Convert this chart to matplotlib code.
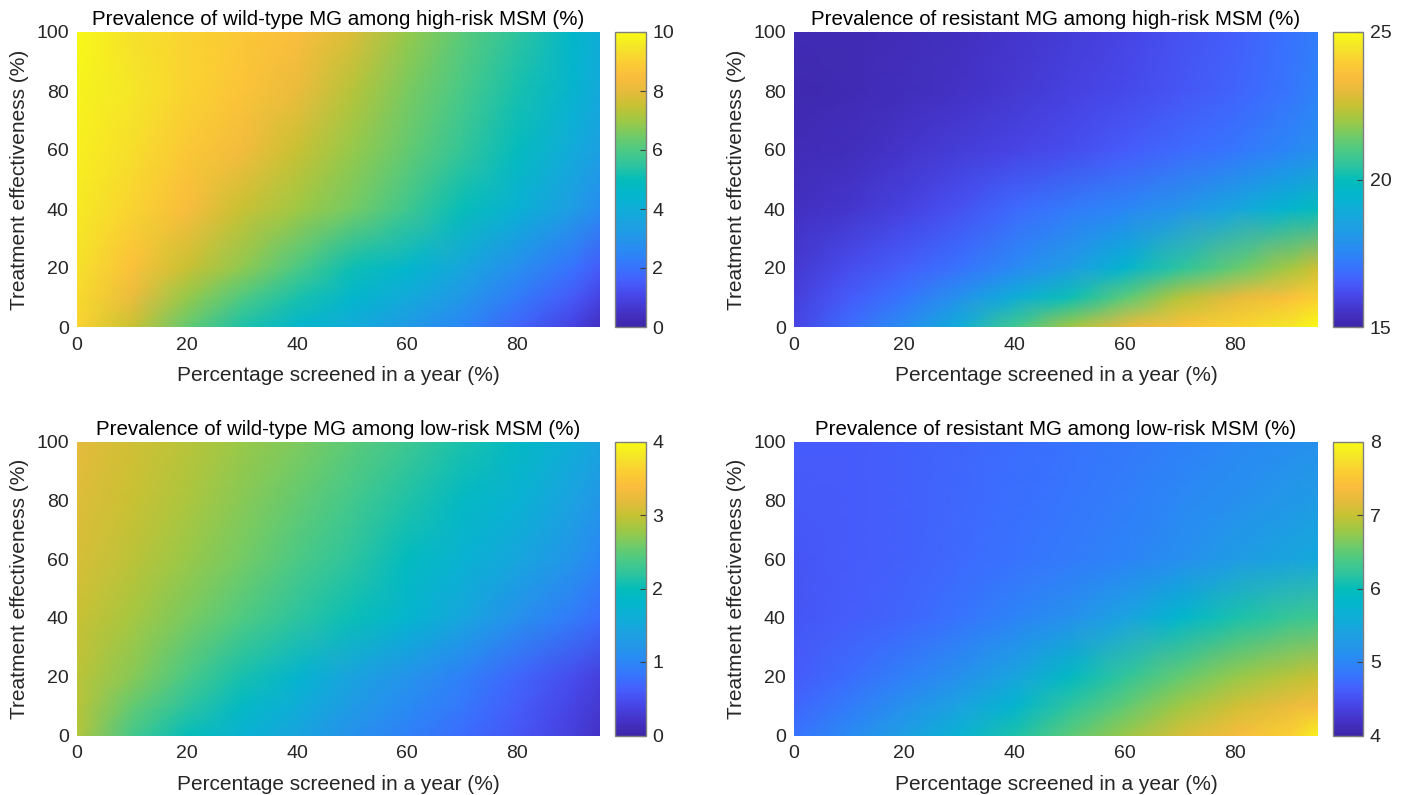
import numpy as np
import matplotlib
matplotlib.use("Agg")
import matplotlib.pyplot as plt
from matplotlib.colors import LinearSegmentedColormap

# grid the values were read on
screened = [0, 10, 20, 30, 40, 50, 60, 70, 80, 90, 95]   # x, percentage screened in a year
effect = [0, 10, 20, 40, 60, 80, 100]                      # y, treatment effectiveness

# wild-type MG, high-risk MSM (rows = effect, cols = screened)
wt_high = [
    [9.1, 7.5, 6.3, 5.3, 4.5, 3.9, 3.2, 2.5, 1.7, 0.9, 0.4],
    [9.25, 8.1, 6.9, 6.05, 5.25, 4.5, 3.85, 3.1, 2.25, 1.45, 0.95],
    [9.4, 8.6, 7.5, 6.8, 6.0, 5.1, 4.5, 3.7, 2.8, 2.0, 1.5],
    [9.6, 9.1, 8.4, 7.5, 7.0, 6.5, 5.8, 5.0, 4.2, 3.3, 2.7],
    [9.7, 9.3, 8.8, 8.3, 7.5, 6.9, 6.3, 5.6, 4.9, 3.9, 3.4],
    [9.8, 9.5, 9.1, 8.7, 8.1, 7.3, 6.6, 5.9, 5.2, 4.4, 3.8],
    [9.9, 9.4, 9.1, 8.8, 8.5, 7.8, 6.9, 6.2, 5.5, 4.6, 4.0],
]

# resistant MG, high-risk MSM
res_high = [
    [16.0, 16.9, 17.7, 19.0, 20.8, 22.0, 23.0, 23.6, 24.1, 24.5, 25.0],
    [15.85, 16.5, 17.1, 17.9, 19.0, 20.1, 21.2, 22.3, 23.0, 23.6, 24.0],
    [15.7, 16.2, 16.6, 17.0, 17.6, 18.3, 19.4, 20.5, 21.3, 22.1, 22.6],
    [15.4, 15.6, 15.9, 16.3, 16.8, 17.2, 17.5, 18.0, 18.7, 19.5, 19.9],
    [15.25, 15.35, 15.55, 15.8, 16.0, 16.2, 16.5, 16.8, 17.1, 17.5, 17.8],
    [15.15, 15.2, 15.35, 15.5, 15.7, 15.9, 16.1, 16.4, 16.7, 17.1, 17.4],
    [15.2, 15.2, 15.3, 15.4, 15.6, 15.8, 16.0, 16.3, 16.6, 17.0, 17.3],
]

# wild-type MG, low-risk MSM
wt_low = [
    [2.9, 2.35, 2.0, 1.7, 1.45, 1.15, 0.95, 0.75, 0.55, 0.33, 0.2],
    [2.93, 2.52, 2.19, 1.89, 1.6, 1.29, 1.06, 0.85, 0.62, 0.4, 0.27],
    [2.95, 2.7, 2.38, 2.08, 1.75, 1.43, 1.18, 0.95, 0.7, 0.48, 0.35],
    [3.0, 2.83, 2.63, 2.42, 2.2, 2.02, 1.78, 1.47, 1.15, 0.9, 0.75],
    [3.1, 2.95, 2.78, 2.6, 2.4, 2.2, 1.95, 1.7, 1.48, 1.2, 1.0],
    [3.15, 3.0, 2.86, 2.69, 2.53, 2.34, 2.13, 1.9, 1.69, 1.4, 1.22],
    [3.2, 3.05, 2.93, 2.78, 2.65, 2.47, 2.3, 2.1, 1.9, 1.6, 1.45],
]

# resistant MG, low-risk MSM
res_low = [
    [4.8, 5.05, 5.35, 5.7, 6.1, 6.48, 6.78, 7.08, 7.35, 7.6, 7.9],
    [4.7, 4.9, 5.15, 5.42, 5.78, 6.2, 6.5, 6.8, 7.05, 7.25, 7.35],
    [4.6, 4.75, 4.93, 5.15, 5.45, 5.9, 6.22, 6.52, 6.75, 6.93, 7.0],
    [4.55, 4.62, 4.7, 4.82, 4.97, 5.15, 5.42, 5.8, 6.1, 6.25, 6.32],
    [4.55, 4.6, 4.65, 4.72, 4.8, 4.88, 4.97, 5.12, 5.3, 5.45, 5.52],
    [4.58, 4.6, 4.65, 4.71, 4.77, 4.84, 4.92, 5.02, 5.14, 5.24, 5.3],
    [4.6, 4.6, 4.65, 4.7, 4.75, 4.8, 4.87, 4.95, 5.02, 5.1, 5.15],
]

titles = [
    "Prevalence of wild-type MG among high-risk MSM (%)",
    "Prevalence of resistant MG among high-risk MSM (%)",
    "Prevalence of wild-type MG among low-risk MSM (%)",
    "Prevalence of resistant MG among low-risk MSM (%)",
]
limits = [(0, 10), (15, 25), (0, 4), (4, 8)]
cbar_ticks = [[0, 2, 4, 6, 8, 10], [15, 20, 25], [0, 1, 2, 3, 4], [4, 5, 6, 7, 8]]

# approximation of MATLAB's parula
parula_pts = [
    (0.243, 0.150, 0.660), (0.265, 0.200, 0.780), (0.278, 0.270, 0.900),
    (0.275, 0.360, 0.985), (0.220, 0.450, 0.995), (0.170, 0.530, 0.965),
    (0.140, 0.585, 0.915), (0.110, 0.635, 0.880), (0.060, 0.680, 0.845),
    (0.010, 0.715, 0.800), (0.020, 0.740, 0.730), (0.180, 0.770, 0.620),
    (0.300, 0.790, 0.520), (0.450, 0.795, 0.400), (0.620, 0.785, 0.270),
    (0.780, 0.760, 0.200), (0.900, 0.735, 0.240), (0.985, 0.740, 0.240),
    (0.985, 0.810, 0.200), (0.960, 0.900, 0.160), (0.977, 0.984, 0.081),
]
parula = LinearSegmentedColormap.from_list("parula", parula_pts, N=256)

plt.rcParams['font.family'] = ['Liberation Sans', 'DejaVu Sans']
W, H = 1406, 795
fig = plt.figure(figsize=(W / 100, H / 100), dpi=100)

# pixel boxes: (left, top, right, bottom)
ax_boxes = [(77, 32, 600, 327), (794, 32, 1318, 327),
            (77, 441.5, 600, 735.5), (794, 441.5, 1318, 735.5)]
cb_boxes = [(615, 32, 645.5, 327), (1333, 32, 1363, 327),
            (615, 441.5, 645.5, 735.5), (1333, 441.5, 1363, 735.5)]

def to_fig(box):
    l, t, r, b = box
    return [l / W, (H - b) / H, (r - l) / W, (b - t) / H]

X, Y = np.meshgrid(screened, effect)
fields = [wt_high, res_high, wt_low, res_low]
fs_tick = 14
fs_lab = 15
tc = '#262626'

for i in range(4):
    ax = fig.add_axes(to_fig(ax_boxes[i]))
    mesh = ax.pcolormesh(X, Y, np.array(fields[i]), shading='gouraud', cmap=parula,
                         vmin=limits[i][0], vmax=limits[i][1])
    ax.set_xlim(0, 95)
    ax.set_ylim(0, 100)
    ax.set_xticks([0, 20, 40, 60, 80])
    ax.set_yticks([0, 20, 40, 60, 80, 100])
    ax.tick_params(axis='x', length=0, labelsize=fs_tick, colors=tc, pad=7)
    ax.tick_params(axis='y', length=0, labelsize=fs_tick, colors=tc, pad=6)
    for s in ax.spines.values():
        s.set_visible(False)
    ax.set_title(titles[i], fontsize=14.8, color='black', pad=5)
    ax.set_xlabel("Percentage screened in a year (%)", fontsize=fs_lab, color=tc, labelpad=9)
    ax.set_ylabel("Treatment effectiveness (%)", fontsize=fs_lab, color=tc, labelpad=5)

    cax = fig.add_axes(to_fig(cb_boxes[i]))
    cb = fig.colorbar(mesh, cax=cax, ticks=cbar_ticks[i])
    cb.outline.set_edgecolor('#7f7f7f')
    cb.outline.set_linewidth(1.0)
    cax.tick_params(direction='in', length=4, width=0.8, color='#404040',
                    labelsize=fs_tick, labelcolor=tc, pad=5)

fig.savefig("out.png", dpi=100)
